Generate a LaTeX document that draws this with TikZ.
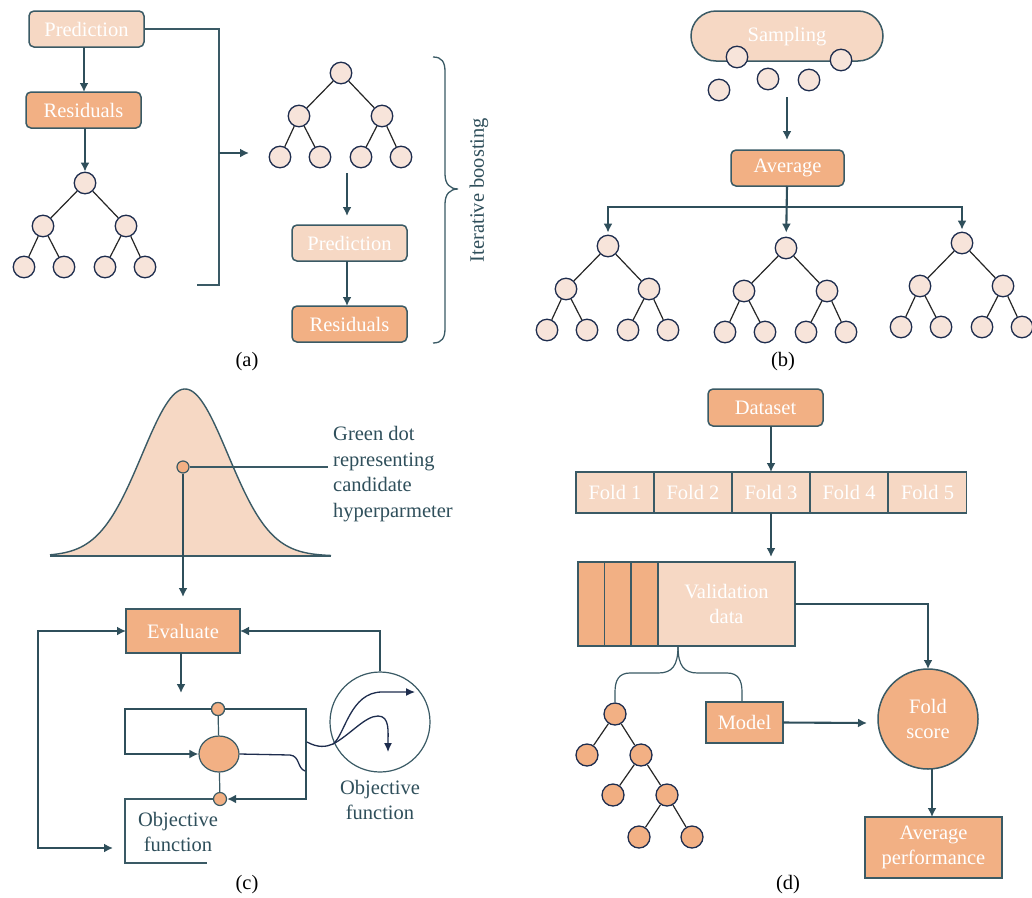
\documentclass[tikz,border=0pt]{standalone}
\usepackage{fontspec}
\setmainfont{Liberation Serif}
\usetikzlibrary{arrows.meta,calc,shapes.geometric}
\definecolor{peach}{HTML}{F6D8C4}
\definecolor{orng}{HTML}{F2B084}
\definecolor{nodefill}{HTML}{F7E4DA}
\definecolor{slate}{HTML}{3A5A65}
\definecolor{darkslate}{HTML}{2F4F5B}
\definecolor{navy}{HTML}{1E2D4E}
\tikzset{
  box/.style={draw=slate, line width=1.5pt, text=white, inner sep=0pt, align=center, outer sep=0pt},
  lbox/.style={box, fill=peach},
  obox/.style={box, fill=orng},
  tn/.style={circle, draw=navy, line width=1.3pt, fill=nodefill, minimum size=21.5pt, inner sep=0pt},
  otn/.style={tn, fill=orng, minimum size=22pt},
  edge/.style={line width=1.2pt, draw=black!85},
  arr/.style={draw=darkslate, line width=2.1pt, -{Latex[length=9pt,width=9pt]}},
  darr/.style={draw=darkslate, line width=2.1pt, {Latex[length=9pt,width=9pt]}-{Latex[length=9pt,width=9pt]}},
  conn/.style={draw=slate, line width=1.6pt},
  thinln/.style={draw=slate, line width=1.2pt},
  curv/.style={draw=navy, line width=1.3pt},
  lab/.style={text=darkslate, align=center},
  captext/.style={text=black},
}
\newcommand{\btree}[4][tn]{%
  \node[#1] (#2r) at (#3,#4) {};
  \node[#1] (#2a) at ({#3-42},{#4+43}) {};
  \node[#1] (#2b) at ({#3+41},{#4+43}) {};
  \node[#1] (#2c) at ({#3-61},{#4+84}) {};
  \node[#1] (#2d) at ({#3-21},{#4+84}) {};
  \node[#1] (#2e) at ({#3+20},{#4+84}) {};
  \node[#1] (#2f) at ({#3+60},{#4+84}) {};
  \draw[edge] (#2r)--(#2a) (#2r)--(#2b) (#2a)--(#2c) (#2a)--(#2d) (#2b)--(#2e) (#2b)--(#2f);
}
\begin{document}
\begin{tikzpicture}[x=1pt,y=-1pt,font=\fontsize{20.5}{25.7}\selectfont]
\useasboundingbox (0,0) rectangle (1032,897);
\fill[white] (0,0) rectangle (1032,897);

% ---------------- (a)
\node[lbox, rounded corners=5pt, minimum width=115pt, minimum height=36pt] (pred1) at (86.5,29) {Prediction};
\node[obox, rounded corners=5pt, minimum width=115pt, minimum height=36pt] (res1) at (83.5,110) {Residuals};
\btree{ta}{85}{183}
\draw[arr] (pred1.south -| 84,0) -- (res1.north -| 84,0);
\draw[arr] (res1.south -| 85,0) -- (tar);
\draw[conn] (pred1.east) -- (219,29) -- (219,285) -- (197,285);
\coordinate (aj) at (219,153);
\coordinate (ajt) at (249,153);
\draw[arr] (aj) -- (ajt);
\btree{tb}{341}{73}
\coordinate (tbo) at (347,173);
\node[lbox, rounded corners=5pt, minimum width=115pt, minimum height=36pt] (pred2) at (349.5,243) {Prediction};
\node[obox, rounded corners=5pt, minimum width=115pt, minimum height=36pt] (res2) at (349.5,324) {Residuals};
\draw[arr, shorten >=9pt] (tbo) -- (tbo |- pred2.north);
\draw[arr] (pred2.south -| 347,0) -- (res2.north -| 347,0);
\draw[conn, line width=1.3pt] (433,57) .. controls (442,57) and (445,62) .. (445,72) -- (445,174)
  .. controls (445,184) and (450,189) .. (458,189)
  .. controls (450,189) and (445,194) .. (445,204) -- (445,328)
  .. controls (445,338) and (442,343) .. (433,343);
\node[lab, rotate=90] (ib) at (479,190) {Iterative boosting};
\node[captext] (capa) at (247,362) {(a)};

% ---------------- (b)
\node[lbox, rounded corners=25pt, minimum width=192pt, minimum height=50pt] (samp) at (787,36) {};
\node[text=white] (sampt) at (787,37) {Sampling};
\node[tn] (s1) at (737,57) {};
\node[tn] (s2) at (841,60) {};
\node[tn] (s3) at (719,90) {};
\node[tn] (s4) at (768,79) {};
\node[tn] (s5) at (809,80) {};
\coordinate (so) at (787,97);
\node[obox, rounded corners=5pt, minimum width=113pt, minimum height=36pt] (avg) at (787.5,168) {Average};
\draw[arr, shorten >=10pt] (so) -- (so |- avg.north);
\btree{b1}{608}{246}
\btree{b2}{786}{248}
\btree{b3}{962}{243}
\coordinate (bs) at (787,207);
\draw[arr, shorten >=4pt] (avg.south -| 787,0) -- (b2r);
\draw[arr, shorten >=2pt] (bs) -| (b1r);
\draw[arr, shorten >=2pt] (bs) -| (b3r);
\node[captext] (capb) at (783,362) {(b)};

% ---------------- (c)
\fill[peach] plot[domain=50:331, samples=120] ({\x},{556-167*exp(-0.5*((\x-185)/43)^2)}) -- cycle;
\draw[conn, line width=1.4pt] plot[domain=50:331, samples=120] ({\x},{556-167*exp(-0.5*((\x-185)/43)^2)});
\draw[conn, line width=1.4pt] (50,556) -- (331,556);
\node[circle, fill=orng, draw=slate, line width=1.2pt, minimum size=12pt, inner sep=0pt] (dot) at (183,467) {};
\coordinate (dotl) at (328,467);
\draw[thinln] (dot) -- (dotl);
\node[lab, align=left, anchor=west, inner sep=0pt] (gd) at (333,474) {Green dot\\representing\\candidate\\hyperparmeter};
\node[obox, minimum width=114pt, minimum height=44pt] (eval) at (183,631) {Evaluate};
\draw[arr, shorten >=12pt] (dot) -- (dot |- eval.north);
\coordinate (lb) at (113,848);
\draw[darr] (eval.west) -- (38,631) -- (38,848) -- (lb);
\node[circle, draw=slate, line width=1.2pt, minimum size=100pt, inner sep=0pt] (objc) at (380,722) {};
\draw[arr] (objc.north) |- (eval.east);
\coordinate (ed) at (181,693);
\draw[arr] (eval.south -| ed) -- (ed);
\node[circle, fill=orng, draw=slate, line width=1.2pt, minimum size=13pt, inner sep=0pt] (st) at (218,709) {};
\node[ellipse, fill=orng, draw=slate, line width=1.2pt, minimum width=40pt, minimum height=36pt, inner sep=0pt] (bc) at (219,754) {};
\node[circle, fill=orng, draw=slate, line width=1.2pt, minimum size=13pt, inner sep=0pt] (sb) at (220,799) {};
\draw[darr] (bc.west) -- (125,754) -- (125,709) -- (306,709) -- (306,799) -- (sb.east);
\node[circle, fill=orng, draw=slate, line width=1.2pt, minimum size=13pt, inner sep=0pt] (st2) at (218,709) {};
\draw[thinln] (st2) -- (bc);
\draw[thinln] (bc) -- (sb);
\draw[curv] (bc.east) -- (290,755) .. controls (300,756) and (297,768) .. (305,771);
\draw[curv, -{Latex[length=9pt,width=8pt]}] (307,742) .. controls (318,748) and (326,747) .. (333,744)
  .. controls (345,735) and (350,692) .. (382,692) -- (415,692);
\draw[curv, -{Latex[length=9pt,width=8pt]}] (333,744) .. controls (350,735) and (365,716) .. (378,716)
  .. controls (390,716) and (388,732) .. (388,752);
\node[lab] (objt) at (380,800) {Objective\\function};
\draw[thinln] (sb.west) -- (125,799) -- (125,863) -- (207,863);
\node[lab] (objt2) at (178,832) {Objective\\function};
\node[captext] (capc) at (247,885) {(c)};

% ---------------- (d)
\node[obox, rounded corners=5pt, minimum width=115pt, minimum height=37pt] (ds) at (765.5,407.5) {Dataset};
\foreach \i/\x in {1/615,2/693,3/771,4/849,5/927.5}{
  \node[lbox, minimum width=78pt, minimum height=41pt] (f\i) at (\x,492.5) {Fold \i};
}
\draw[arr] (ds.south -| f3) -- (f3.north);
\coordinate (fo) at (771,557);
\draw[arr] (f3.south) -- (fo);
\node[obox, minimum width=26.5pt, minimum height=84pt] (v1) at (591.25,604) {};
\node[obox, minimum width=26.5pt, minimum height=84pt] (v2) at (617.75,604) {};
\node[obox, minimum width=26.5pt, minimum height=84pt] (v3) at (644.5,604) {};
\node[lbox, minimum width=137pt, minimum height=84pt] (val) at (726.5,604) {Validation\\[-1pt]data};
\node[obox, circle, minimum size=100pt] (fs) at (928,719) {Fold\\score};
\draw[arr] (val.east) -| (fs.north);
\node[obox, minimum width=137pt, minimum height=61pt] (ap) at (933.5,847.5) {Average\\performance};
\draw[arr] (fs.south -| 932,0) -- (ap.north -| 932,0);
\node[obox, minimum width=77pt, minimum height=41pt] (model) at (744.5,722.5) {Model};
\coordinate (mo) at (867,723);
\draw[arr] (model.east) -- (mo);
\node[otn] (d1) at (615,714) {};
\node[otn] (d2) at (587,755) {};
\node[otn] (d3) at (641,755) {};
\node[otn] (d4) at (613,795) {};
\node[otn] (d5) at (667,795) {};
\node[otn] (d6) at (639,837) {};
\node[otn] (d7) at (692,837) {};
\draw[edge] (d1)--(d2) (d1)--(d3) (d3)--(d4) (d3)--(d5) (d5)--(d6) (d5)--(d7);
\coordinate (vs) at (678,646);
\draw[thinln] (vs) .. controls (678,666) and (672,673) .. (658,673) -- (630,673)
  .. controls (619,673) and (615,680) .. (615,692) -- (d1.north);
\draw[thinln] (vs) .. controls (678,666) and (684,673) .. (698,673) -- (727,673)
  .. controls (738,673) and (742,680) .. (742,692) -- (model.north -| 742,0);
\node[captext] (capd) at (788,885) {(d)};
\end{tikzpicture}
\end{document}
